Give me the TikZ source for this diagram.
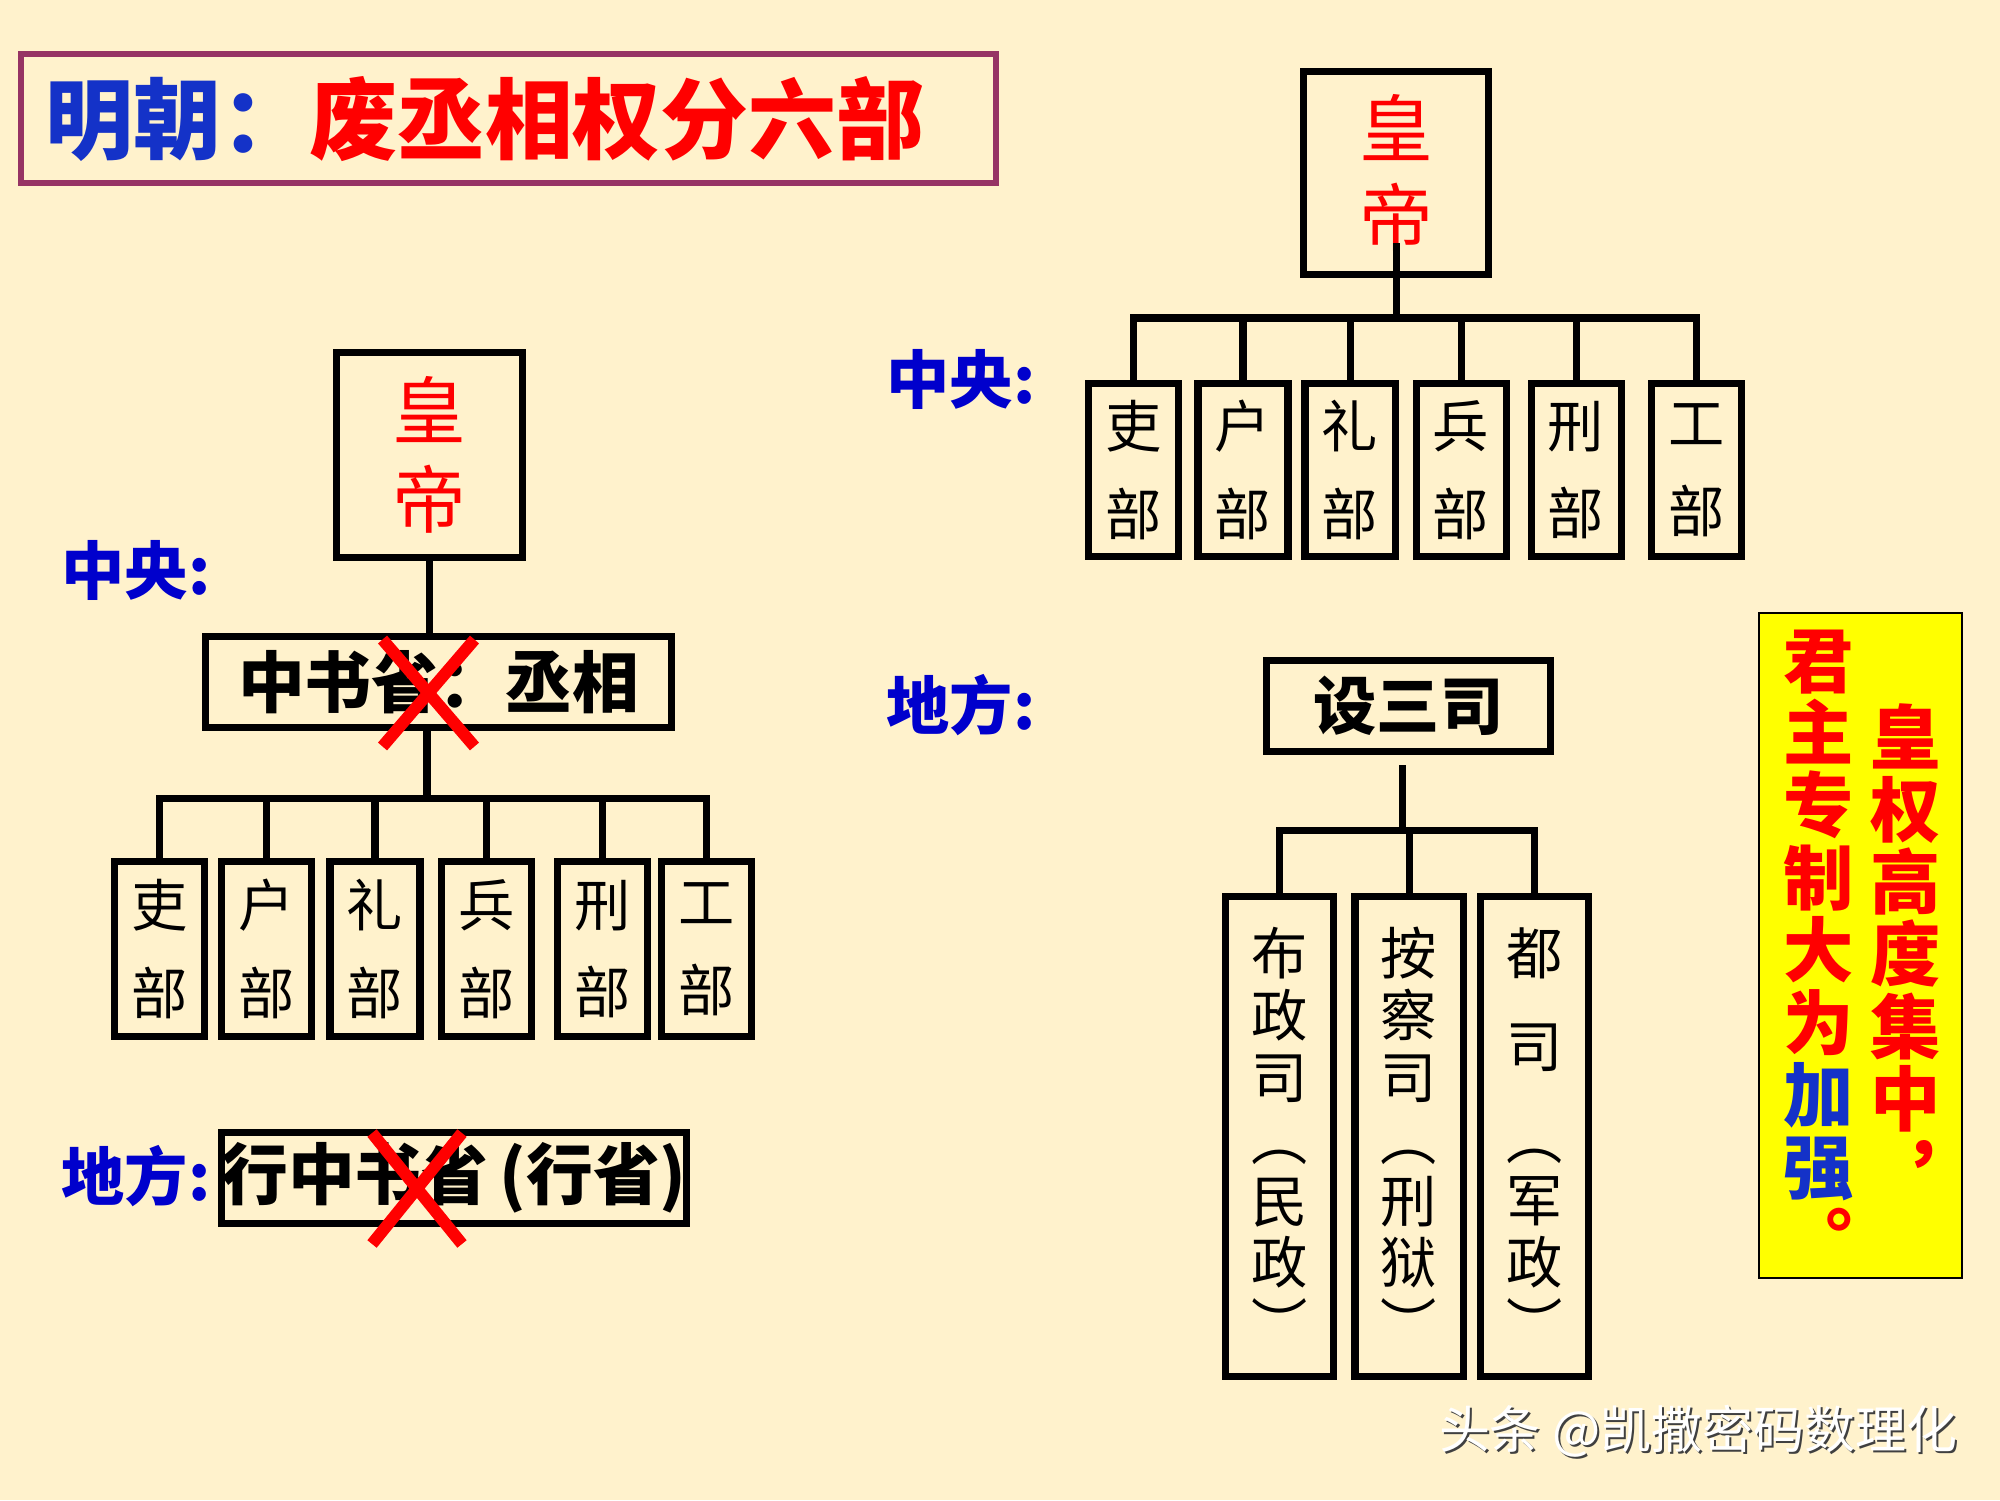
\documentclass[tikz,border=0pt]{standalone}
\usepackage{fontspec}
\setmainfont{Noto Sans CJK SC}
\usepackage{tikz}
\usetikzlibrary{shapes.misc}
\definecolor{bgcream}{RGB}{255,242,204}
\definecolor{labelblue}{RGB}{0,0,204}
\definecolor{titleblue}{RGB}{20,50,200}
\definecolor{frameplum}{RGB}{150,52,100}
\definecolor{noteyellow}{RGB}{255,255,0}

\begin{document}
\begin{tikzpicture}[
          titlebox/.style={
              draw=frameplum,
              line width=1.7pt,
              minimum width=9.75cm,
              minimum height=1.29cm
            },
          kingbox/.style={
              draw,
              line width=2pt,
              minimum width=1.86cm,
              minimum height=2.05cm,
              text=red,
              align=center,
              font=\fontsize{21}{25.5}\selectfont
            },
          officebox/.style={
              draw,
              line width=2pt,
              minimum height=0.91cm,
              inner sep=0pt,
              font=\bfseries\fontsize{19}{19}\selectfont
            },
          deptbox/.style={
              draw,
              line width=2pt,
              minimum width=0.90cm,
              minimum height=1.75cm,
              inner sep=1pt,
              align=center,
              font=\fontsize{16}{25}\selectfont
            },
          sibox/.style={
              draw,
              line width=2pt,
              minimum width=1.08cm,
              minimum height=4.80cm,
              inner sep=1pt,
              align=center,
              font=\fontsize{16}{17.6}\selectfont
            },
          notebox/.style={draw, line width=0.6pt, fill=noteyellow, minimum width=2.03cm, minimum height=6.65cm},
          notecol/.style={align=center, text=red, inner sep=0pt, font=\bfseries\fontsize{20}{20.6}\selectfont},
          region/.style={anchor=west, text=labelblue, inner sep=0pt, font=\bfseries\fontsize{18}{18}\selectfont},
          link/.style={line width=2pt},
          xmark/.style={cross out, draw=red, line width=3.4pt, inner sep=0pt}
        ]
        \useasboundingbox (0,0) rectangle (20,-15);
        \fill[bgcream] (0,0) rectangle (20,-15);

        \node[titlebox] (title) at (5.085,-1.185) {};
        \node[anchor=west, inner sep=0pt, font=\bfseries\fontsize{25}{25}\selectfont] (title_txt) at (0.45,-1.19) {\textcolor{titleblue}{明朝：}\textcolor{red}{废丞相权分六部}};

        \node[region] (zy_l) at (0.61,-5.70) {中央:};
        \node[kingbox] (huangdi_l) at (4.295,-4.55) {皇\\帝};
        \node[officebox, minimum width=4.66cm] (zhongshu) at (4.385,-6.82) {中书省：丞相};
        \node[xmark, minimum width=0.80cm, minimum height=0.95cm] (xmark_1) at (4.285,-6.93) {};
        \coordinate (bar_l) at (4.27,-7.98);
        \node[deptbox] (bu_l1) at (1.595,-9.49) {吏\\部};
        \node[deptbox] (bu_l2) at (2.665,-9.49) {户\\部};
        \node[deptbox] (bu_l3) at (3.75,-9.49) {礼\\部};
        \node[deptbox] (bu_l4) at (4.865,-9.49) {兵\\部};
        \node[deptbox] (bu_l5) at (6.025,-9.49) {刑\\部};
        \node[deptbox] (bu_l6) at (7.065,-9.49) {工\\部};

        \draw[link] (huangdi_l.south) -- (huangdi_l.south |- zhongshu.north);
        \draw[link] (zhongshu.south -| bar_l) -- (bar_l);
        \draw[link] (bu_l1.north) |- (bar_l);
        \draw[link] (bu_l2.north) |- (bar_l);
        \draw[link] (bu_l3.north) |- (bar_l);
        \draw[link] (bu_l4.north) |- (bar_l);
        \draw[link] (bu_l5.north) |- (bar_l);
        \draw[link] (bu_l6.north) |- (bar_l);

        \node[region] (df_l) at (0.61,-11.76) {地方:};
        \node[officebox, minimum width=4.65cm] (xingsheng) at (4.54,-11.78) {行中书省\,(行省)};
        \node[xmark, minimum width=0.78cm, minimum height=0.99cm] (xmark_2) at (4.17,-11.885) {};

        \node[kingbox, minimum width=1.85cm, minimum height=2.03cm] (huangdi_r) at (13.96,-1.73) {皇\\帝};
        \node[region] (zy_r) at (8.86,-3.79) {中央:};
        \coordinate (bar_r) at (13.96,-3.18);
        \node[deptbox, minimum height=1.73cm] (bu_r1) at (11.335,-4.70) {吏\\部};
        \node[deptbox, minimum height=1.73cm] (bu_r2) at (12.43,-4.70) {户\\部};
        \node[deptbox, minimum height=1.73cm] (bu_r3) at (13.50,-4.70) {礼\\部};
        \node[deptbox, minimum height=1.73cm] (bu_r4) at (14.61,-4.70) {兵\\部};
        \node[deptbox, minimum height=1.73cm] (bu_r5) at (15.76,-4.70) {刑\\部};
        \node[deptbox, minimum height=1.73cm] (bu_r6) at (16.965,-4.70) {工\\部};

        \draw[link, shorten <=-0.35cm] (huangdi_r.south) -- (huangdi_r.south |- bar_r);
        \draw[link] (bu_r1.north) |- (bar_r);
        \draw[link] (bu_r2.north) |- (bar_r);
        \draw[link] (bu_r3.north) |- (bar_r);
        \draw[link] (bu_r4.north) |- (bar_r);
        \draw[link] (bu_r5.north) |- (bar_r);
        \draw[link] (bu_r6.north) |- (bar_r);

        \node[region] (df_r) at (8.86,-7.05) {地方:};
        \node[officebox, minimum width=2.84cm, font=\bfseries\fontsize{18}{18}\selectfont] (sansi) at (14.085,-7.06) {设三司};
        \coordinate (bar_s) at (14.02,-8.30);
        \node[sibox] (si_bz) at (12.795,-11.365) {布\\政\\司\\︵\\民\\政\\︶};
        \node[sibox] (si_ac) at (14.09,-11.365) {按\\察\\司\\︵\\刑\\狱\\︶};
        \node[sibox] (si_ds) at (15.345,-11.365) {都\\[8.8pt]司\\[8.8pt]︵\\军\\政\\︶};

        \draw[link, shorten <=0.1cm] (bar_s |- sansi.south) -- (bar_s);
        \draw[link] (si_bz.north) |- (bar_s);
        \draw[link] (si_ac.north) |- (bar_s);
        \draw[link] (si_ds.north) |- (bar_s);

        \node[notebox] (note) at (18.605,-9.455) {};
        \node[notecol] (note_r) at (19.06,-9.51) {皇\\权\\高\\度\\集\\中\\︐};
        \node[notecol] (note_l) at (18.19,-9.48) {君\\主\\专\\制\\大\\为\\\textcolor{titleblue}{加}\\\textcolor{titleblue}{强}\\︒};

        \node[anchor=east, inner sep=0pt, text=black!75, font=\fontsize{14.5}{14.5}\selectfont] (wm_shadow) at (19.60,-14.33) {头条 @凯撒密码数理化};
        \node[anchor=east, inner sep=0pt, text=white, font=\fontsize{14.5}{14.5}\selectfont] (wm) at (19.58,-14.31) {头条 @凯撒密码数理化};
      \end{tikzpicture}
\end{document}
